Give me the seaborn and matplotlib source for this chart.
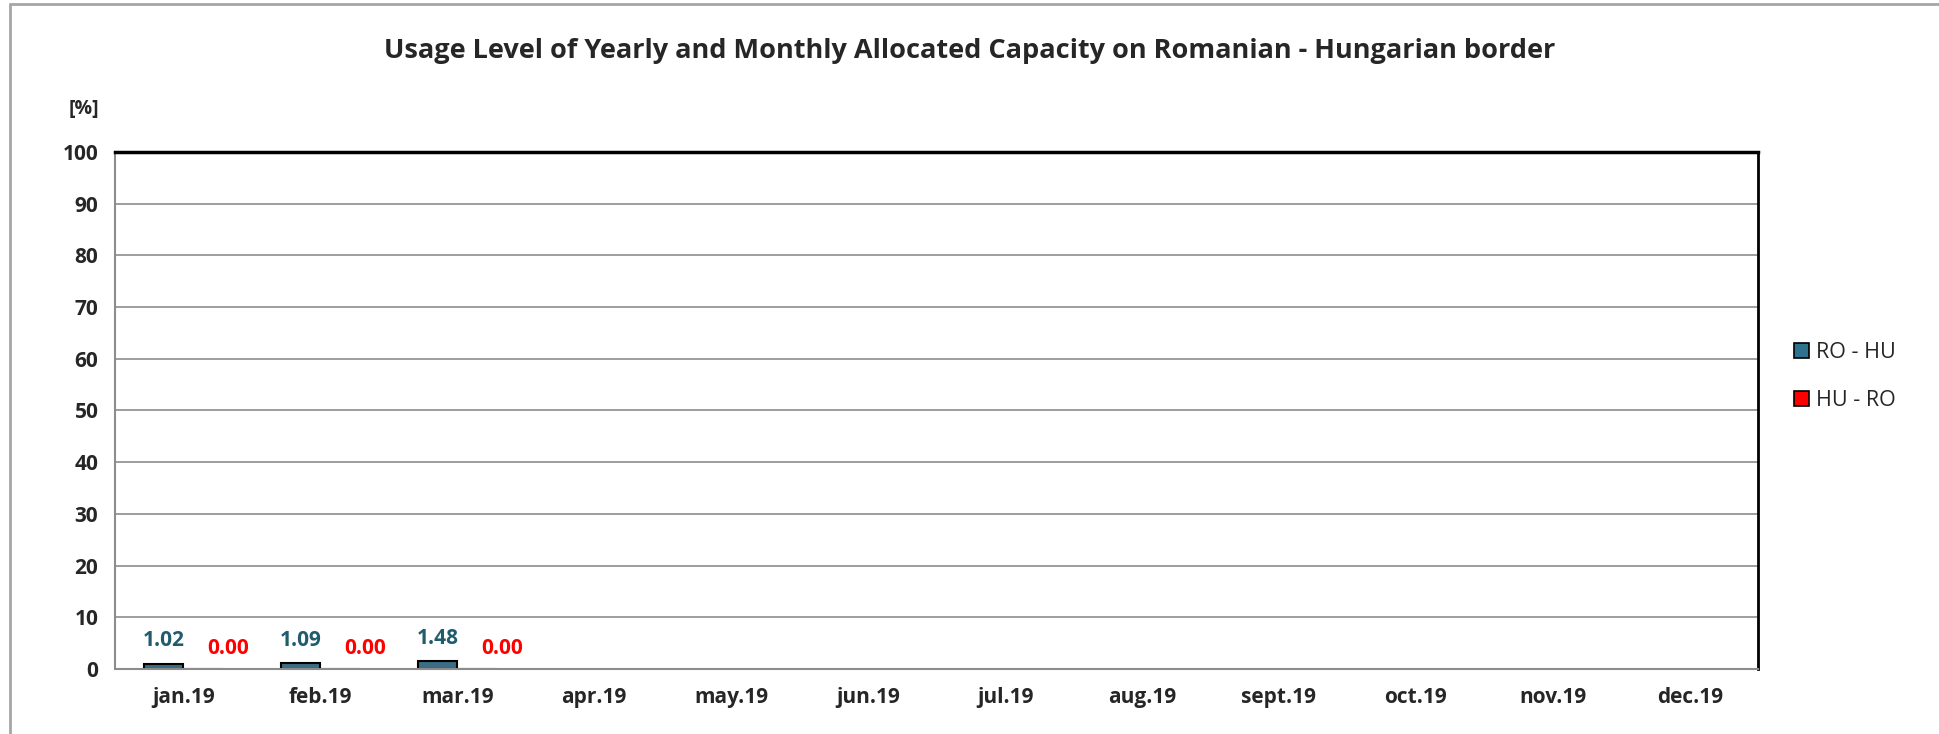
import matplotlib
matplotlib.use("Agg")
import matplotlib.pyplot as plt
import numpy as np
import pandas as pd
import seaborn as sns
from matplotlib.patches import Patch
from matplotlib.lines import Line2D

# data
months = ["jan.19", "feb.19", "mar.19", "apr.19", "may.19", "jun.19",
          "jul.19", "aug.19", "sept.19", "oct.19", "nov.19", "dec.19"]
ro_hu = [1.02, 1.09, 1.48] + [np.nan] * 9
hu_ro = [0.00, 0.00, 0.00] + [np.nan] * 9
series = ["RO - HU", "HU - RO"]
colors = ["#2F7290", "#FF0000"]
label_colors = ["#215B6E", "#FF0000"]

df = pd.DataFrame({
    "month": months * 2,
    "value": ro_hu + hu_ro,
    "direction": [series[0]] * len(months) + [series[1]] * len(months),
})

sns.set_style("white")
plt.rcParams["font.family"] = ["Open Sans", "DejaVu Sans"]

fig = plt.figure(figsize=(19.39, 7.34), dpi=100)
ax = fig.add_axes([0.0593, 0.0886, 0.8475, 0.7043])

sns.barplot(data=df, x="month", y="value", hue="direction", order=months,
            hue_order=series, palette=colors, width=0.58, ax=ax,
            edgecolor="black", linewidth=1.5, legend=False)

# value labels
for cont, vals, col, dx, dy in zip(ax.containers, [ro_hu, hu_ro], label_colors,
                                   [0, 18], [9, 7]):
    for bar, v in zip(cont, vals):
        if np.isnan(v):
            continue
        ax.annotate(f"{v:.2f}", (bar.get_x() + bar.get_width() / 2, v),
                    xytext=(dx, dy), textcoords="offset points",
                    ha="center", va="bottom", color=col,
                    fontsize=15, fontweight="bold")

ax.set_xlim(-0.5, 11.5)
ax.set_ylim(0, 100)
ax.set_yticks(range(0, 101, 10))
ax.yaxis.grid(True, color="#8c8c8c", linewidth=1.2)
ax.set_axisbelow(True)
ax.set_xlabel("")
ax.set_ylabel("")

ax.set_xticks(range(len(months)))
ax.set_xticklabels(months, fontsize=15, fontweight="bold")
ax.set_xticks(np.arange(-0.5, 12, 1), minor=True)
ax.tick_params(axis="x", which="major", length=0, pad=13)
ax.tick_params(axis="x", which="minor", length=6, color="#8c8c8c", width=1.5,
               direction="out")
ax.tick_params(axis="y", length=6, color="#8c8c8c", width=1.2, direction="out",
               labelsize=15, pad=6)
for t in ax.get_yticklabels():
    t.set_fontweight("bold")

for side in ["left", "bottom"]:
    ax.spines[side].set_color("#8c8c8c")
    ax.spines[side].set_linewidth(1.5)
ax.spines["top"].set_color("black")
ax.spines["top"].set_linewidth(2.5)
ax.spines["right"].set_color("black")
ax.spines["right"].set_linewidth(2)

fig.text(0.5, 0.93, "Usage Level of Yearly and Monthly Allocated Capacity on Romanian - Hungarian border",
         ha="center", va="center", fontsize=19.5, fontweight="bold")
fig.text(0.0435, 0.851, "[%]", ha="center", va="center", fontsize=14, fontweight="bold")

handles = [Patch(facecolor=c, edgecolor="black", linewidth=1.2) for c in colors]
fig.legend(handles, series, loc="center left", bbox_to_anchor=(0.915, 0.487),
           frameon=False, fontsize=15.5, handlelength=0.7, handleheight=0.7,
           handletextpad=0.35, labelspacing=1.25)

# outer chart border (top and left)
fig.add_artist(Line2D([0.005, 1.0], [0.995, 0.995], color="#a6a6a6", linewidth=2,
                      transform=fig.transFigure))
fig.add_artist(Line2D([0.005, 0.005], [0.0, 0.995], color="#a6a6a6", linewidth=2,
                      transform=fig.transFigure))

fig.savefig("out.png", dpi=100)
